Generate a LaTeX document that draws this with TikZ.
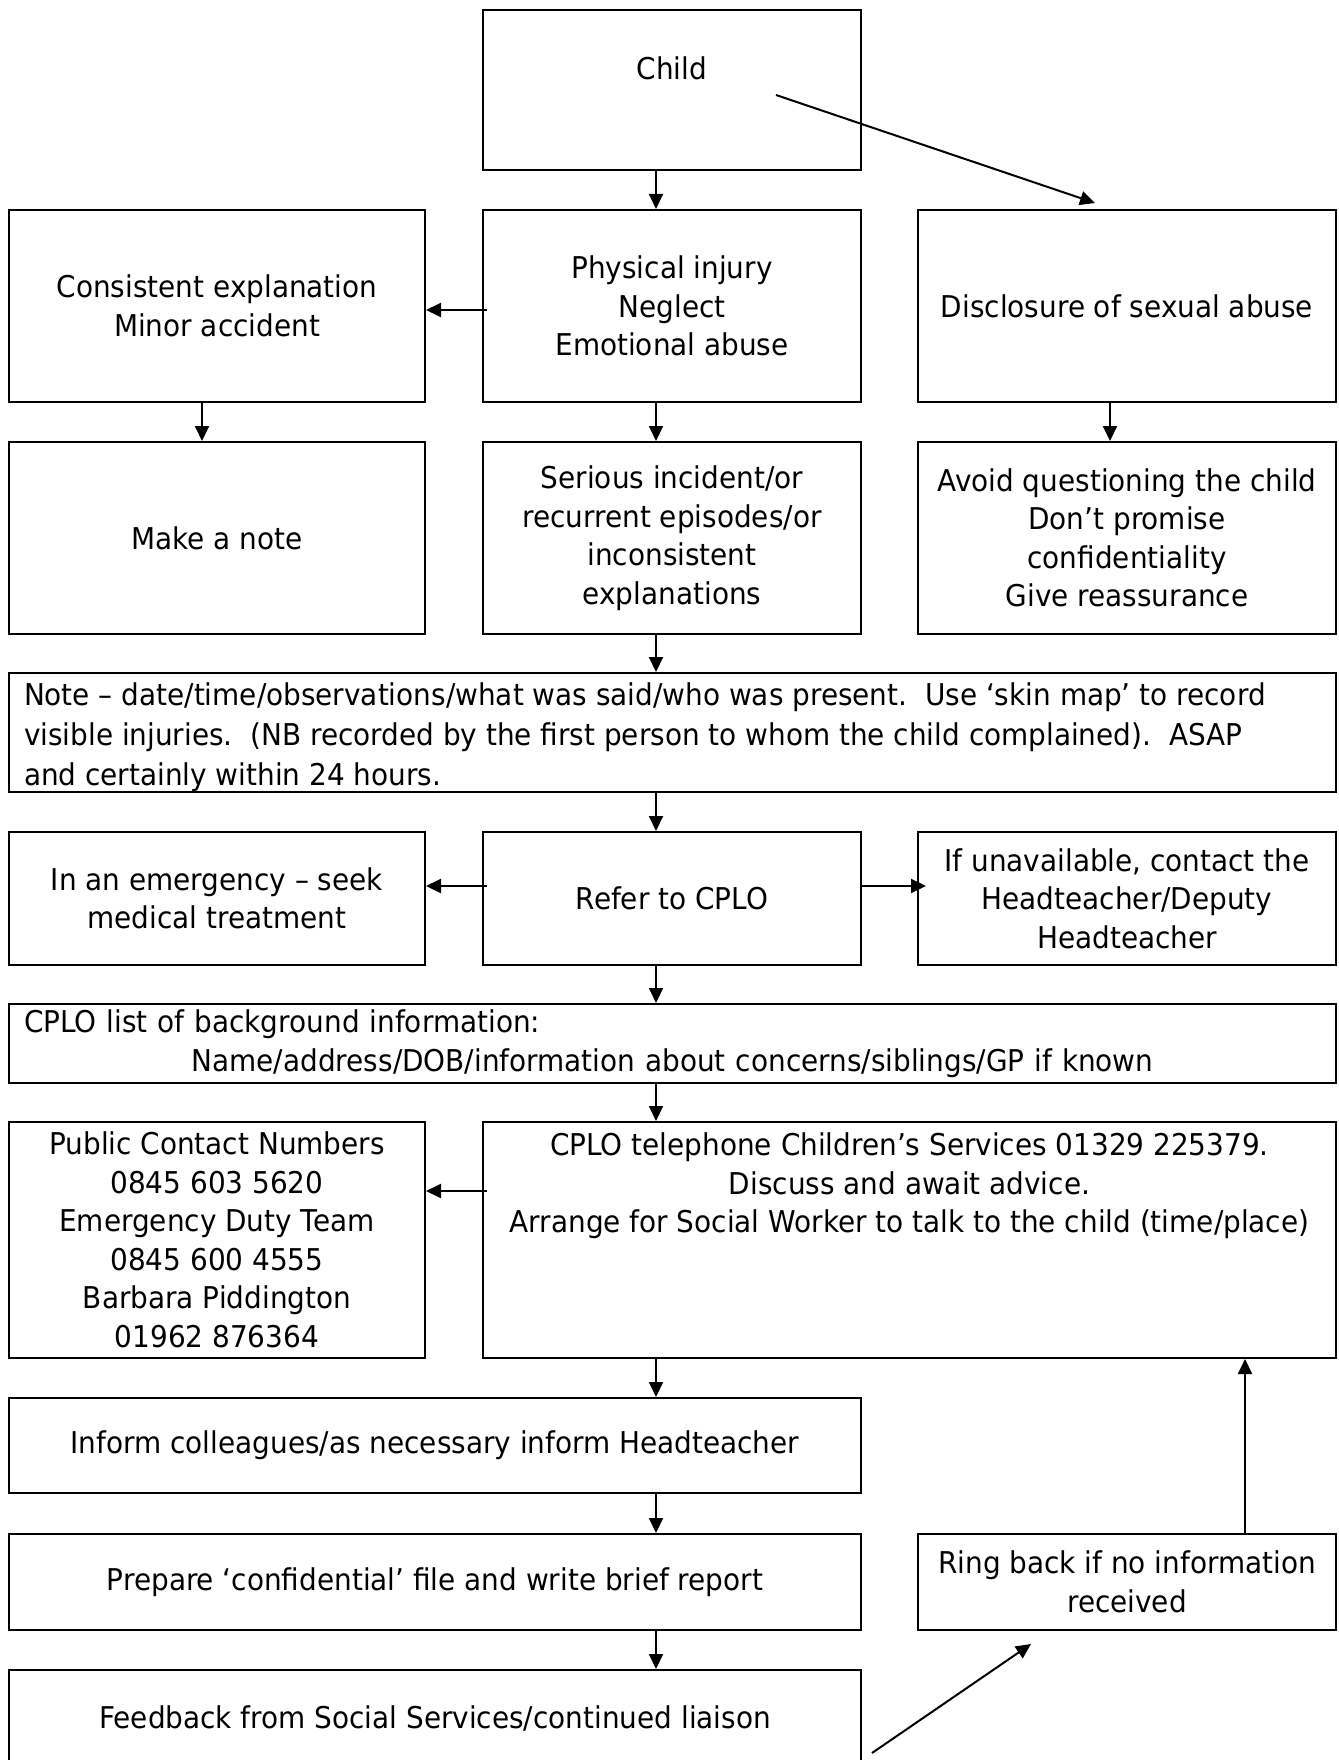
\documentclass[tikz,border=0pt]{standalone}
\usepackage{fontspec}
\setmainfont{DejaVu Sans}[FakeStretch=0.93]
\usetikzlibrary{arrows.meta,calc}
\begin{document}
\begin{tikzpicture}[x=1pt,y=-1pt,
  box/.style={draw, line width=2pt, inner sep=0pt, align=center,
    font=\fontsize{30}{38.5}\selectfont},
  arr/.style={line width=2pt, -{Triangle[length=15pt,width=14pt]}}]
\useasboundingbox (0,0) rectangle (1338,1760);

% row 1
\node[box] (child) at (672,90)
  {\parbox[c][160pt][t]{378pt}{\centering\vspace*{43pt}\strut Child}};
% row 2
\node[box, minimum width=416, minimum height=192] (cons) at (217,306)
  {Consistent explanation\\Minor accident};
\node[box, minimum width=378, minimum height=192] (phys) at (672,306)
  {Physical injury\\Neglect\\Emotional abuse};
\node[box, minimum width=418, minimum height=192] (disc) at (1127,306)
  {Disclosure of sexual abuse};
% row 3
\node[box, minimum width=416, minimum height=192] (mknote) at (217,538)
  {Make a note};
\node[box, minimum width=378, minimum height=192] (serious) at (672,538)
  {Serious incident/or\\recurrent episodes/or\\inconsistent\\explanations};
\node[box, minimum width=418, minimum height=192] (avoid) at (1127,538)
  {Avoid questioning the child\\Don’t promise\\confidentiality\\Give reassurance};
% note
\node[box, inner xsep=15pt, font=\fontsize{30}{40}\selectfont] (notebox) at (672.5,732.5)
  {\parbox[c][119pt][t]{1297pt}{\raggedright\vspace*{4pt}\strut
   Note – date/time/observations/what was said/who was present.~~Use ‘skin map’ to record\\
   visible injuries.~~(NB recorded by the first person to whom the child complained).~~ASAP\\
   and certainly within 24 hours.}};
% row 4
\node[box, minimum width=416, minimum height=133] (emerg) at (217,898.5)
  {In an emergency – seek\\medical treatment};
\node[box, minimum width=378, minimum height=133] (refer) at (672,898.5)
  {Refer to CPLO};
\node[box, minimum width=418, minimum height=133] (unavail) at (1127,898.5)
  {If unavailable, contact the\\Headteacher/Deputy\\Headteacher};
% list
\node[box, text width=1297pt, inner xsep=15pt, minimum height=79] (cplolist) at (672.5,1043.5)
  {\makebox[1297pt][l]{CPLO list of background information:}\\
   Name/address/DOB/information about concerns/siblings/GP if known};
% row 5
\node[box, minimum width=416, minimum height=236] (public) at (217,1240)
  {Public Contact Numbers\\0845 603 5620\\Emergency Duty Team\\0845 600 4555\\Barbara Piddington\\01962 876364};
\node[box] (cplotel) at (909.5,1240)
  {\parbox[c][236pt][t]{853pt}{\centering\vspace*{7pt}\strut CPLO telephone Children’s Services 01329 225379.\\
   Discuss and await advice.\\
   Arrange for Social Worker to talk to the child (time/place)}};
% lower rows
\node[box, minimum width=852, minimum height=95] (inform) at (435,1445.5)
  {Inform colleagues/as necessary inform Headteacher};
\node[box, minimum width=852, minimum height=96] (prepare) at (435,1582)
  {Prepare ‘confidential’ file and write brief report};
\node[box, minimum width=418, minimum height=96] (ring) at (1127,1582)
  {Ring back if no information\\received};
\node[box, minimum width=852, minimum height=96] (feedback) at (435,1718)
  {Feedback from Social Services/continued liaison};

% helper coordinates
\coordinate (mx) at (656,0);
\coordinate (lx) at (202,0);
\coordinate (rx) at (1110,0);
\coordinate (ux) at (1245,0);
\coordinate (r2) at (0,310);
\coordinate (r4) at (0,886);
\coordinate (r7) at (0,1191);
\coordinate (c1) at (776,95);
\coordinate (d1) at (872,1753);

% connectors
\draw[arr] (child.south -| mx) -- (phys.north -| mx);
\draw[arr] (c1) -- ($(disc.north west)+(178,-6)$);
\draw[arr] ([xshift=5pt]phys.west |- r2) -- (cons.east |- r2);
\draw[arr] (cons.south -| lx) -- (mknote.north -| lx);
\draw[arr] (phys.south -| mx) -- (serious.north -| mx);
\draw[arr] (disc.south -| rx) -- (avoid.north -| rx);
\draw[arr] (serious.south -| mx) -- (notebox.north -| mx);
\draw[arr] (notebox.south -| mx) -- (refer.north -| mx);
\draw[arr] ([xshift=5pt]refer.west |- r4) -- (emerg.east |- r4);
\draw[arr] (refer.east |- r4) -- ([xshift=9pt]unavail.west |- r4);
\draw[arr] (refer.south -| mx) -- (cplolist.north -| mx);
\draw[arr] (cplolist.south -| mx) -- (cplotel.north -| mx);
\draw[arr] ([xshift=5pt]cplotel.west |- r7) -- (public.east |- r7);
\draw[arr] (cplotel.south -| mx) -- (inform.north -| mx);
\draw[arr] (inform.south -| mx) -- (prepare.north -| mx);
\draw[arr] (prepare.south -| mx) -- (feedback.north -| mx);
\draw[arr] (ring.north -| ux) -- (cplotel.south -| ux);
\draw[arr] (d1) -- ($(ring.south west)+(114,13)$);
\end{tikzpicture}
\end{document}
